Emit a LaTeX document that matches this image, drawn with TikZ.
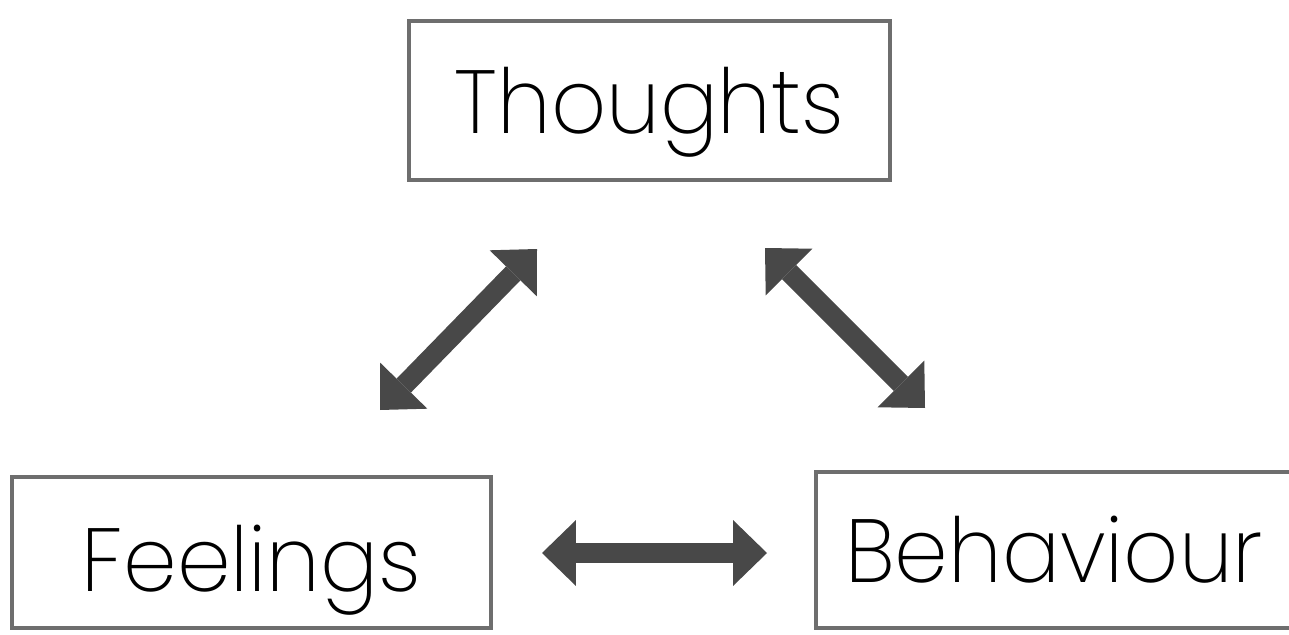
\documentclass[tikz,border=0pt]{standalone}
\usepackage{fontspec}
\setmainfont{Poppins}[UprightFont=* ExtraLight, FakeStretch=0.96]
\usepackage{xcolor}
\usetikzlibrary{arrows.meta}
\definecolor{CBTBorder}{HTML}{6E6E6E}
\definecolor{CBTArrow}{HTML}{484848}

\tikzset{
  cbtbox/.style={draw=CBTBorder, line width=0.09cm, inner sep=0pt,
    text height=1.32cm, text depth=0pt,
    font=\fontsize{51}{58}\selectfont},
  cbttip/.tip={Triangle[width=1.32cm, length=0.68cm, line width=0pt]},
  cbtarrow/.style={CBTArrow, line width=0.4cm, cbttip-cbttip}
}

\begin{document}
\begin{tikzpicture}[x=0.02cm, y=-0.02cm]
        \useasboundingbox (0,0) rectangle (1289,635);
        \node[cbtbox, minimum width=9.62cm, minimum height=3.18cm] (thoughts) at (649.5,100.5) {Thoughts};
        \node[cbtbox, minimum width=9.58cm, minimum height=3.02cm, text height=1.56cm] (feelings) at (251.5,552.5) {Feelings};
        \node[cbtbox, minimum width=9.52cm, minimum height=3.12cm] (behaviour) at (1054,550) {Behaviour};
        \coordinate (tf) at (537,249);
        \coordinate (ft) at (380,410);
        \coordinate (tb) at (765,248);
        \coordinate (bt) at (925,408);
        \coordinate (fb) at (542,553);
        \coordinate (bf) at (767,553);
        \draw[cbtarrow] (tf) -- (ft);
        \draw[cbtarrow] (tb) -- (bt);
        \draw[cbtarrow] (fb) -- (bf);
    \end{tikzpicture}
\end{document}
